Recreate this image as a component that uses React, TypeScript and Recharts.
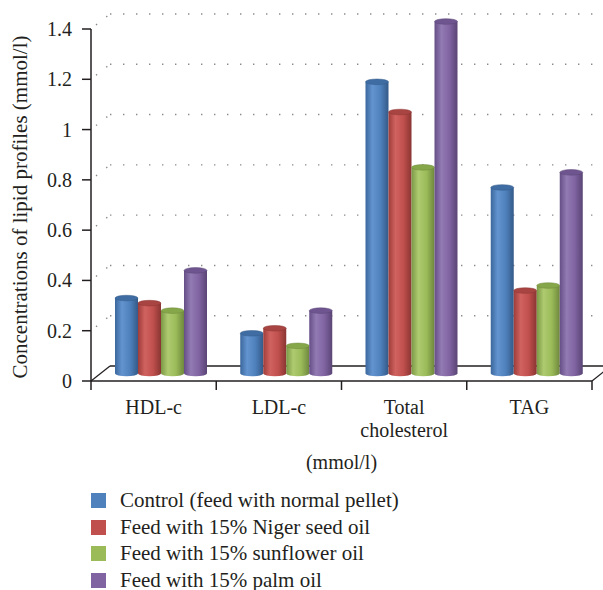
import React from 'react';
import { BarChart, Bar, XAxis, YAxis, Legend, Customized } from 'recharts';

const categories = ['HDL-c', 'LDL-c', 'Total cholesterol', 'TAG'];
const control = [0.3, 0.16, 1.16, 0.74];
const niger = [0.28, 0.18, 1.04, 0.33];
const sunflower = [0.25, 0.11, 0.82, 0.35];
const palm = [0.41, 0.25, 1.4, 0.8];
const yTicks = [0, 0.2, 0.4, 0.6, 0.8, 1, 1.2, 1.4];

const seriesNames = [
  'Control (feed with normal pellet)',
  'Feed with 15% Niger seed oil',
  'Feed with 15% sunflower oil',
  'Feed with 15% palm oil',
];
const seriesKeys = ['control', 'niger', 'sunflower', 'palm'];
const colors = ['#4F81BD', '#C0504D', '#9BBB59', '#8064A2'];
// dark edge, highlight, base, dark edge, cap
const shades = [
  ['#3B679C', '#6394D0', '#4F81BD', '#345A88', '#3F6DA3'],
  ['#9E3D3A', '#D0625F', '#C0504D', '#8A3532', '#A84542'],
  ['#7B9846', '#AECB70', '#9BBB59', '#6E883D', '#86A64A'],
  ['#654E85', '#927AB3', '#8064A2', '#5A4575', '#6E5590'],
];

const data = categories.map((name, i) => ({
  name,
  control: control[i],
  niger: niger[i],
  sunflower: sunflower[i],
  palm: palm[i],
}));

const W = 603;
const H = 590;
const PL = 91;
const PR = 592;
const PT = 29;
const PB = 381;
const VMAX = 1.4;
const FONT = '"Liberation Serif", "Times New Roman", serif';
const TXT = '#231F20';
// 3D depth offsets (back wall / bars mid-depth)
const BX = 19;
const BY = -15;
const MX = 8;
const MY = -7.5;

const yF = (v: number) => PB - ((PB - PT) * v) / VMAX;

const Decor = () => {
  const bands = [0, 1, 2, 3, 4].map((i) => PL + (i * (PR - PL)) / 4);
  return (
    <g>
      {yTicks
        .filter((v) => v > 0)
        .map((v) => (
          <g key={v}>
            <line x1={PL + BX} x2={W} y1={yF(v) + BY} y2={yF(v) + BY} stroke="#8a8a8a" strokeWidth={1.4} strokeDasharray="1.4 11.6" />
            <line x1={PL + 5} x2={PL + BX} y1={yF(v) - 4} y2={yF(v) + BY} stroke="#8a8a8a" strokeWidth={1.4} strokeDasharray="1.4 11.6" />
          </g>
        ))}
      <line x1={PL + BX} x2={W} y1={PB + BY} y2={PB + BY} stroke={TXT} strokeWidth={1.5} />
      <line x1={PL} x2={PL + BX} y1={PB} y2={PB + BY} stroke={TXT} strokeWidth={1.2} />
      <line x1={PR} x2={PR + BX} y1={PB} y2={PB + BY} stroke={TXT} strokeWidth={1.2} />
      {bands.map((x, i) => (
        <line key={i} x1={x} x2={x} y1={PB} y2={PB + 9} stroke={TXT} strokeWidth={1.5} />
      ))}
    </g>
  );
};

const Cylinder = (props: any) => {
  const { x, y, width, height, k } = props;
  if (!width || height == null) return null;
  const x0 = x + MX;
  const y0 = y + MY;
  const rx = width / 2;
  const ry = 2.8;
  const cx = x0 + rx;
  return (
    <g>
      <ellipse cx={cx} cy={y0 + height} rx={rx} ry={ry} fill={`url(#cyl-${k})`} />
      <rect x={x0} y={y0} width={width} height={height} fill={`url(#cyl-${k})`} />
      <ellipse cx={cx} cy={y0} rx={rx} ry={ry} fill={shades[k][4]} stroke={shades[k][3]} strokeWidth={0.5} />
    </g>
  );
};

const XTick = (props: any) => {
  const { x, payload } = props;
  const words = String(payload.value).split(' ');
  return (
    <text x={x} y={PB + 33} textAnchor="middle" fontSize={20} fill={TXT} fontFamily={FONT}>
      {words.map((w, i) => (
        <tspan key={i} x={x} dy={i === 0 ? 0 : 23}>
          {w}
        </tspan>
      ))}
    </text>
  );
};

const YTick = (props: any) => {
  const { x, y, payload } = props;
  return (
    <text x={x} y={y} dy={7} textAnchor="end" fontSize={20} fill={TXT} fontFamily={FONT}>
      {payload.value}
    </text>
  );
};

const YLabel = () => (
  <text
    x={22}
    y={(PT + PB) / 2 + 2}
    transform={`rotate(-90, 22, ${(PT + PB) / 2 + 2})`}
    textAnchor="middle"
    dominantBaseline="middle"
    fontSize={21}
    fill={TXT}
    fontFamily={FONT}
  >
    Concentrations of lipid profiles (mmol/l)
  </text>
);

const LegendBox = () => (
  <div style={{ fontFamily: FONT, fontSize: 21, color: TXT }}>
    {seriesNames.map((n, i) => (
      <div key={n} style={{ position: 'relative', height: 26.5, lineHeight: '26.5px' }}>
        <span
          style={{
            position: 'absolute',
            left: 91,
            top: 6,
            width: 15,
            height: 15,
            background: colors[i],
          }}
        />
        <span style={{ position: 'absolute', left: 120, top: 0, whiteSpace: 'nowrap' }}>{n}</span>
      </div>
    ))}
  </div>
);

export default function App() {
  return (
    <div style={{ position: 'absolute', left: 0, top: 0, width: W, height: H, background: '#fff' }}>
      <BarChart
        width={W}
        height={H}
        data={data}
        margin={{ top: PT, right: W - PR, left: 0, bottom: H - PB - 90 }}
        barCategoryGap={16}
        barGap={0}
        style={{ fontFamily: FONT }}
      >
        <defs>
          {shades.map((s, i) => (
            <linearGradient key={i} id={`cyl-${i}`} x1="0" y1="0" x2="1" y2="0">
              <stop offset="0%" stopColor={s[0]} />
              <stop offset="30%" stopColor={s[1]} />
              <stop offset="65%" stopColor={s[2]} />
              <stop offset="100%" stopColor={s[3]} />
            </linearGradient>
          ))}
        </defs>
        <Customized component={<Decor />} />
        <XAxis
          dataKey="name"
          height={90}
          axisLine={{ stroke: TXT, strokeWidth: 1.5 }}
          tickLine={false}
          tick={<XTick />}
          interval={0}
          label={{ value: '(mmol/l)', position: 'insideBottom', offset: 2, fontSize: 20, fill: TXT, fontFamily: FONT }}
        />
        <YAxis
          width={PL}
          domain={[0, VMAX]}
          ticks={yTicks}
          axisLine={{ stroke: TXT, strokeWidth: 1.5 }}
          tickLine={{ stroke: TXT, strokeWidth: 1.5 }}
          tickSize={9}
          tickMargin={10}
          tick={<YTick />}
          label={<YLabel />}
        />
        {seriesKeys.map((key, i) => (
          <Bar
            key={key}
            dataKey={key}
            name={seriesNames[i]}
            fill={colors[i]}
            isAnimationActive={false}
            shape={(p: any) => <Cylinder {...p} k={i} />}
          />
        ))}
        <Legend
          layout="horizontal"
          verticalAlign="middle"
          align="center"
          content={() => <LegendBox />}
          wrapperStyle={{ position: 'absolute', left: 0, top: 487, width: W }}
        />
      </BarChart>
    </div>
  );
}
